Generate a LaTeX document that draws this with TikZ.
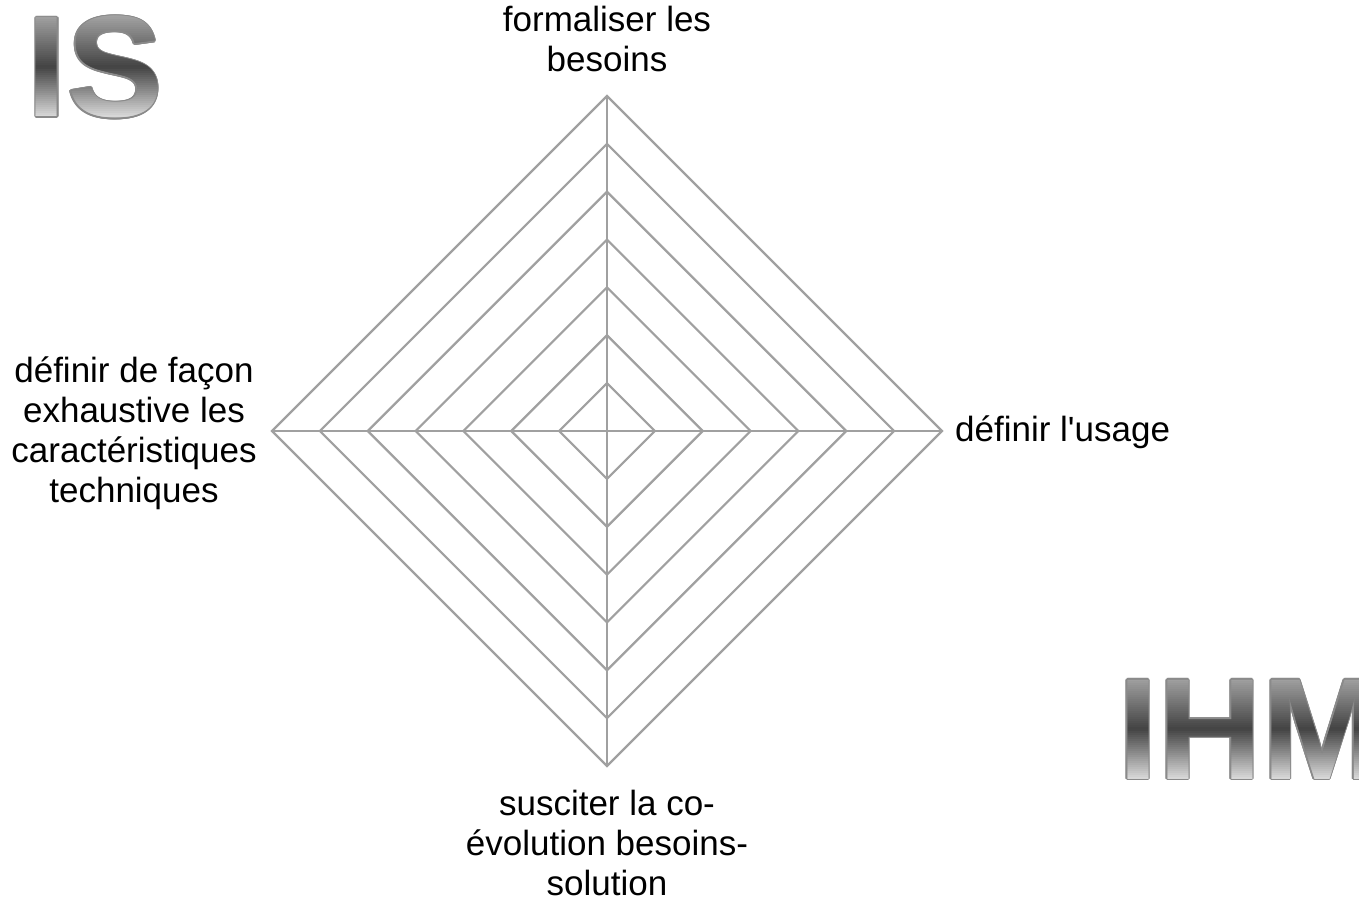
\documentclass[tikz,border=0pt]{standalone}
\usepackage{fontspec}
\setmainfont{Liberation Sans}
\usetikzlibrary{calc}

\definecolor{gridgray}{HTML}{A0A0A0}
\definecolor{logoedge}{HTML}{8A8A8A}
\definecolor{logotop}{HTML}{A8A8A8}
\definecolor{logomid}{HTML}{434343}
\definecolor{logobot}{HTML}{DADADA}

\newcommand\logotype{\fontsize{144}{144}\selectfont\bfseries}

\tikzset{
  gridline/.style={draw=gridgray, line width=2.2pt, line join=miter},
  axislabel/.style={inner sep=0pt, align=center,
    font=\fontsize{35}{40}\selectfont, text=black},
  logotext/.style={inner sep=0pt, outer sep=0pt, font=\logotype, anchor=base west},
}

% metallic logotype: grey contour, then a vertical gradient built from
% thin horizontal bands, each one clipping a copy of the letters
% #1 = name, #2 = x of origin, #3 = baseline y, #4 = text
\newcommand\metallogo[4]{%
  \foreach \ang in {0,30,...,330}
    \node[logotext, text=logoedge, shift={(\ang:1.7)}] at (#2,#3) {#4};
  \foreach \band in {0,...,51}{%
    \pgfmathsetmacro\logofrac{(\band+0.5)/52}%
    \pgfmathsetmacro\bandtop{#3-103+(\band==0 ? -30 : 2*\band-0.4)}%
    \pgfmathsetmacro\bandbot{#3-103+(\band==51 ? 140 : 2*\band+2.4)}%
    \ifdim\logofrac pt<0.52pt
      \pgfmathsetmacro\logomix{\logofrac/0.52*100}%
      \colorlet{bandcolor}{logomid!\logomix!logotop}%
    \else
      \pgfmathsetmacro\logomix{(\logofrac-0.52)/0.48*100}%
      \colorlet{bandcolor}{logobot!\logomix!logomid}%
    \fi
    \begin{scope}
      \clip (#2-20,\bandtop) rectangle (#2+400,\bandbot);
      \node[logotext, text=bandcolor] at (#2,#3) {#4};
    \end{scope}
  }%
  \node[logotext, text opacity=0] (#1) at (#2,#3) {#4};
}

\begin{document}
\begin{tikzpicture}[x=1pt, y=-1pt]
  \useasboundingbox (0,0) rectangle (1359,901);
  \clip (0,0) rectangle (1359,901);
  \fill[white] (0,0) rectangle (1359,901);

  % radar grid: seven concentric diamonds and four axes
  \coordinate (c) at (607,431);
  \coordinate (vtop) at (607,96);
  \coordinate (vright) at (942,431);
  \coordinate (vbottom) at (607,766);
  \coordinate (vleft) at (272,431);
  \foreach \k in {1,...,7}{
    \pgfmathsetmacro\r{335*\k/7}
    \draw[gridline] ($(c)+(\r,0)$) -- ($(c)+(0,\r)$) -- ($(c)+(-\r,0)$)
      -- ($(c)+(0,-\r)$) -- cycle;
  }
  \draw[gridline] (c) -- (vtop);
  \draw[gridline] (c) -- (vright);
  \draw[gridline] (c) -- (vbottom);
  \draw[gridline] (c) -- (vleft);

  % axis labels (base anchor = baseline of the last line)
  \node[axislabel, anchor=base] (ltop) at (607,72) {formaliser les\\besoins};
  \node[axislabel, anchor=base west] (lright) at (955,441)
    {définir l\textquotesingle usage};
  \node[axislabel, anchor=base] (lleft) at (134,502)
    {définir de façon\\exhaustive les\\caractéristiques\\techniques};
  \node[axislabel, anchor=base] (lbottom) at (607,895)
    {susciter la co-\\évolution besoins-\\solution};

  % logotypes
  \metallogo{is}{27}{117}{IS}
  \metallogo{ihm}{1118}{779}{IHM}
\end{tikzpicture}
\end{document}
